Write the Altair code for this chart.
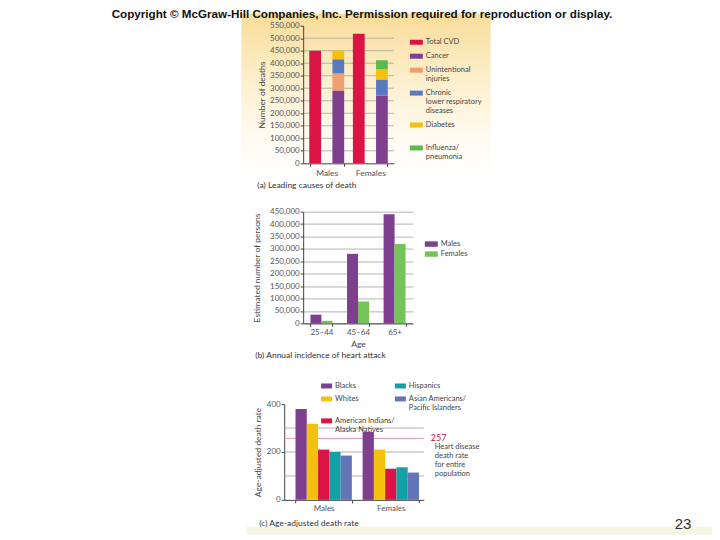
import altair as alt
import pandas as pd

# ---------------- data ----------------
# (a) Leading causes of death
a_sexes = ["Males", "Females"]
a_causes = ["Total CVD", "Cancer", "Unintentional injuries",
            "Chronic lower respiratory diseases", "Diabetes", "Influenza/pneumonia"]
a_colors = ["#dc1446", "#7d3f8e", "#f0a070", "#5b79c0", "#f5c10f", "#5cb94b"]
a_males = [450000, 291000, 68000, 57000, 35000, 0]
a_females = [518000, 271000, 0, 64000, 41000, 36000]
a_ticks = list(range(0, 550001, 50000))
a_grid = list(range(50000, 500001, 50000))

# (b) Annual incidence of heart attack
b_ages = ["25–44", "45–64", "65+"]
b_sexes = ["Males", "Females"]
b_colors = ["#7d3f8e", "#74c45a"]
b_males = [35000, 280000, 440000]
b_females = [10000, 88000, 320000]
b_ticks = list(range(0, 450001, 50000))

# (c) Age-adjusted death rate
c_sexes = ["Males", "Females"]
c_groups = ["Blacks", "Whites", "American Indians/Alaska Natives", "Hispanics",
            "Asian Americans/Pacific Islanders"]
c_colors = ["#7d3f8e", "#f5c10f", "#dc1446", "#12a2a6", "#6275b8"]
c_males = [380, 318, 210, 200, 185]
c_females = [284, 210, 130, 136, 114]
c_ticks = [0, 100, 200, 300, 400]
c_grid = [100, 200, 300]
c_overall = 257

FONT = "Lato"
one = pd.DataFrame({"k": [0]})
THOUSANDS = "datum.value == 0 ? '0' : floor(datum.value / 1000) + ',000'"

# ---------------- panel (a) ----------------
rows = []
for sex, vals in zip(a_sexes, [a_males, a_females]):
    for i, (cause, v) in enumerate(zip(a_causes, vals)):
        if v > 0:
            rows.append({"sex": sex, "bar": "cvd" if i == 0 else "other",
                         "cause": cause, "deaths": v, "order": i})
dfA = pd.DataFrame(rows)

copyright_text = alt.Chart(one).mark_text(
    text="Copyright © McGraw-Hill Companies, Inc.  Permission required for reproduction or display.",
    align="center", baseline="middle", fontSize=11.7, fontWeight="bold", color="#111",
    font="Liberation Sans"
).encode(x=alt.value(59), y=alt.value(-12))

gradA = alt.Chart(one).mark_rect(
    color=alt.LinearGradient(
        gradient="linear", x1=0, x2=0, y1=0, y2=1,
        stops=[alt.GradientStop(offset=0, color="#f8dc98"),
               alt.GradientStop(offset=0.35, color="#fcedc6"),
               alt.GradientStop(offset=0.75, color="#fffaf0"),
               alt.GradientStop(offset=1, color="#ffffff")])
).encode(x=alt.value(-62), x2=alt.value(188), y=alt.value(-12), y2=alt.value(150))

yA_scale = alt.Scale(domain=[0, 550000], nice=False)
yA_axis = alt.Axis(values=a_ticks, labelExpr=THOUSANDS, title="Number of deaths",
                   grid=False, labelPadding=1, titlePadding=3, zindex=1, labelOverlap=False)

gridA = alt.Chart(pd.DataFrame({"deaths": a_grid})).mark_rule(
    color="#aaa293", strokeWidth=0.8).encode(y=alt.Y("deaths:Q", scale=yA_scale, axis=yA_axis))

legA_expr = ("datum.label == 'Unintentional injuries' ? ['Unintentional','injuries'] : "
             "datum.label == 'Chronic lower respiratory diseases' ? ['Chronic','lower respiratory','diseases'] : "
             "datum.label == 'Influenza/pneumonia' ? ['Influenza/','pneumonia'] : "
             "datum.label == 'Diabetes' ? ['Diabetes',''] : datum.label")

xA = alt.X("sex:N", sort=a_sexes,
           scale=alt.Scale(domain=a_sexes, paddingInner=0.22, paddingOuter=0.15),
           axis=alt.Axis(title=None, labelAngle=0, tickBand="extent", labelPadding=2,
                         labelFontSize=8.5, zindex=1))
yA = alt.Y("deaths:Q", stack="zero", scale=yA_scale, axis=yA_axis)
colorA = alt.Color("cause:N", scale=alt.Scale(domain=a_causes, range=a_colors),
                   legend=alt.Legend(orient="none", legendX=107, legendY=6, title=None,
                                     symbolType="M-1,0.245H1V1.015H-1Z", symbolSize=169,
                                     symbolStrokeWidth=0, labelBaseline="top",
                                     labelOffset=3, rowPadding=-9.5, labelLimit=300,
                                     labelExpr=legA_expr, padding=0))

barsA_cvd = alt.Chart(dfA[dfA["bar"] == "cvd"]).mark_bar(width=11.8, xOffset=-11.6).encode(
    x=xA, y=yA, color=colorA)
barsA_other = alt.Chart(dfA[dfA["bar"] == "other"]).mark_bar(width=11.8, xOffset=11.6).encode(
    x=xA, y=yA, color=colorA, order=alt.Order("order:Q"))

capA = alt.Chart(one).mark_text(
    text="(a) Leading causes of death", align="left", baseline="middle",
    fontSize=8.5, color="#333", font=FONT
).encode(x=alt.value(-46), y=alt.value(160))

panelA = alt.layer(gradA, gridA, barsA_cvd, barsA_other, capA, copyright_text).properties(
    width=91, height=138)

# ---------------- panel (b) ----------------
rowsB = []
for age, m, f in zip(b_ages, b_males, b_females):
    rowsB.append({"age": age, "sex": "Males", "persons": m})
    rowsB.append({"age": age, "sex": "Females", "persons": f})
dfB = pd.DataFrame(rowsB)

xB = alt.X("age:N", sort=b_ages,
           scale=alt.Scale(domain=b_ages, paddingInner=0.4, paddingOuter=0.2),
           axis=alt.Axis(title="Age", labelAngle=0, tickBand="extent", labelPadding=2,
                         titlePadding=3))
yB = alt.Y("persons:Q", scale=alt.Scale(domain=[0, 450000], nice=False),
           axis=alt.Axis(values=b_ticks, labelExpr=THOUSANDS, title="Estimated number of persons",
                         grid=True, gridColor="#b4b4b4", labelPadding=1, titlePadding=8,
                         labelOverlap=False))
colorB = alt.Color("sex:N", scale=alt.Scale(domain=b_sexes, range=b_colors),
                   legend=alt.Legend(orient="none", legendX=122, legendY=26, title=None,
                                     symbolType="M-1,-0.42H1V0.42H-1Z", symbolSize=169,
                                     symbolStrokeWidth=0, labelOffset=3, rowPadding=-2,
                                     padding=0))
barsB = [alt.Chart(dfB[dfB["sex"] == s]).mark_bar(width=11, xOffset=off).encode(
            x=xB, y=yB, color=colorB)
         for s, off in zip(b_sexes, [-5.5, 5.5])]

capB = alt.Chart(one).mark_text(
    text="(b) Annual incidence of heart attack", align="left", baseline="middle",
    fontSize=8.5, color="#333", font=FONT
).encode(x=alt.value(-48), y=alt.value(144))

panelB = alt.layer(*barsB, capB).properties(width=110, height=112)

# ---------------- panel (c) ----------------
rowsC = []
for sex, vals in zip(c_sexes, [c_males, c_females]):
    for g, v in zip(c_groups, vals):
        rowsC.append({"sex": sex, "group": g, "rate": v})
dfC = pd.DataFrame(rowsC)

legC_expr = ("datum.label == 'American Indians/Alaska Natives' ? ['American Indians/','Alaska Natives'] : "
             "datum.label == 'Asian Americans/Pacific Islanders' ? ['Asian Americans/','Pacific Islanders'] : "
             "datum.label")

SH = 19  # panel (c) sits further left than (a) and (b)
yC_scale = alt.Scale(domain=[0, 400], nice=False)
yC_axis = alt.Axis(values=c_ticks, title="Age-adjusted death rate", grid=False,
                   labelPadding=1, titlePadding=4, minExtent=0, offset=SH, labelOverlap=False)

gridC = alt.Chart(pd.DataFrame({"rate": c_grid})).mark_rule(
    color="#9c9c9c", strokeWidth=0.8).encode(
    y=alt.Y("rate:Q", scale=yC_scale, axis=yC_axis), x=alt.value(-SH), x2=alt.value(121))

xC = alt.X("sex:N", sort=c_sexes,
           scale=alt.Scale(domain=c_sexes, range=[-SH, 121], paddingInner=0.16,
                           paddingOuter=0.12, align=0.7),
           axis=alt.Axis(title=None, labelAngle=0, tickBand="extent", labelPadding=2))
yC = alt.Y("rate:Q", scale=yC_scale, axis=yC_axis)
colorC = alt.Color("group:N", scale=alt.Scale(domain=c_groups, range=c_colors),
                   legend=alt.Legend(orient="none", legendX=37 - SH, legendY=-27.8, title=None,
                                     columns=2, gridAlign="each", columnPadding=-5,
                                     symbolType="M-1,0.29H1V1.2H-1Z", symbolSize=121,
                                     symbolStrokeWidth=0, labelBaseline="top",
                                     labelOffset=3, rowPadding=-9, labelLimit=300,
                                     labelExpr=legC_expr, padding=0))
barsC = [alt.Chart(dfC[dfC["group"] == g]).mark_bar(width=11.3, xOffset=(i - 2) * 11.3).encode(
            x=xC, y=yC, color=colorC)
         for i, g in enumerate(c_groups)]

refC = alt.Chart(one).mark_rule(color="#e891a8", strokeWidth=1).encode(
    y=alt.datum(c_overall), x=alt.value(-SH), x2=alt.value(121))
refLabel = alt.Chart(one).mark_text(
    text=str(c_overall), align="left", baseline="middle", fontSize=9, color="#c8184a", font=FONT
).encode(x=alt.value(147 - SH), y=alt.datum(c_overall))
refText = alt.Chart(one).mark_text(
    text="Heart disease\ndeath rate\nfor entire\npopulation", lineBreak="\n", lineHeight=9,
    align="left", baseline="top", dy=5, fontSize=7.5, color="#444", font=FONT
).encode(x=alt.value(151 - SH), y=alt.datum(c_overall))

capC = alt.Chart(one).mark_text(
    text="(c) Age-adjusted death rate", align="left", baseline="middle",
    fontSize=8.5, color="#333", font=FONT
).encode(x=alt.value(-25 - SH), y=alt.value(119))

band = alt.Chart(one).mark_rect(color="#f6f5e3").encode(
    x=alt.value(-38 - SH), x2=alt.value(429 - SH), y=alt.value(123), y2=alt.value(131))

pageNo = alt.Chart(one).mark_text(
    text="23", align="center", baseline="middle", fontSize=15, color="#333",
    font="Liberation Sans"
).encode(x=alt.value(400 - SH), y=alt.value(120))

panelC = alt.layer(band, gridC, refC, *barsC, refLabel, refText, capC, pageNo).properties(
    width=121, height=96)

# ---------------- layout ----------------
lower = alt.vconcat(panelB, panelC, spacing=16).resolve_scale(color="independent")
chart = alt.vconcat(panelA, lower, spacing=17.5).resolve_scale(
    color="independent"
).properties(
    padding={"left": 102, "top": 0, "right": 0, "bottom": 0},
).configure(
    style={"guide-label": {"lineHeight": 9}}
).configure_view(stroke=None).configure_axis(
    labelFont=FONT, titleFont=FONT, labelFontSize=8, titleFontSize=8.5,
    labelColor="#555", titleColor="#444", titleFontWeight="normal",
    domainColor="#444", tickColor="#444", tickSize=3, domainWidth=1,
).configure_legend(
    labelFont=FONT, labelFontSize=7.5, labelColor="#444",
)

chart.save("out.html", embed_options={"renderer": "svg", "actions": False})
